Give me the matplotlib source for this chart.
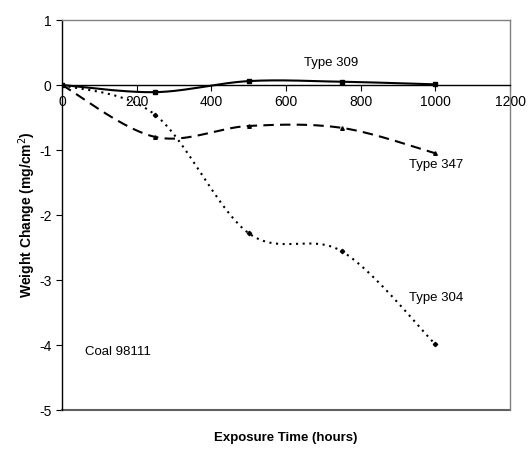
import numpy as np
import matplotlib
matplotlib.use("Agg")
import matplotlib.pyplot as plt

plt.rcParams['font.family'] = ['Liberation Sans', 'DejaVu Sans']
plt.rcParams['axes.unicode_minus'] = False

hours = [0, 250, 500, 750, 1000]
type309 = [0.0, -0.11, 0.06, 0.05, 0.01]
type347 = [0.0, -0.80, -0.63, -0.66, -1.05]
type304 = [0.0, -0.46, -2.28, -2.56, -3.99]

xticks = [0, 200, 400, 600, 800, 1000, 1200]
yticks = [1, 0, -1, -2, -3, -4, -5]


def smooth(x, y, n=40):
    x = np.asarray(x, float)
    y = np.asarray(y, float)
    P = np.column_stack([x, y])
    m = len(P)
    out = []
    for i in range(m - 1):
        p0 = P[max(i - 1, 0)]
        p1 = P[i]
        p2 = P[i + 1]
        p3 = P[min(i + 2, m - 1)]
        c1 = p1 + (p2 - p0) / 6.0
        c2 = p2 - (p3 - p1) / 6.0
        t = np.linspace(0, 1, n)[:, None]
        seg = ((1 - t) ** 3) * p1 + 3 * ((1 - t) ** 2) * t * c1 + 3 * (1 - t) * t ** 2 * c2 + t ** 3 * p2
        out.append(seg if i == 0 else seg[1:])
    s = np.vstack(out)
    return s[:, 0], s[:, 1]


fig = plt.figure(figsize=(5.31, 4.58), dpi=100)
ax = fig.add_axes([62 / 531, 1 - 410 / 458, 448 / 531, 390 / 458])

sx, sy = smooth(hours, type309)
ax.plot(sx, sy, color='black', lw=1.5, ls='-')
ax.plot(hours, type309, ls='none', marker='s', ms=2.6, color='black')

sx, sy = smooth(hours, type347)
ax.plot(sx, sy, color='black', lw=1.5, ls=(0, (5, 3)))
ax.plot(hours, type347, ls='none', marker='^', ms=2.6, color='black')

sx, sy = smooth(hours, type304)
ax.plot(sx, sy, color='black', lw=1.5, ls=(0, (1, 2.2)))
ax.plot(hours, type304, ls='none', marker='D', ms=2.2, color='black')

ax.set_xlim(0, 1200)
ax.set_ylim(-5, 1)
ax.set_xticks(xticks)
ax.set_yticks(yticks)
ax.set_xticklabels([str(v) for v in xticks])
ax.set_yticklabels([str(v) for v in yticks])

ax.spines['bottom'].set_position(('data', 0))
ax.spines['bottom'].set_color('black')
ax.spines['left'].set_color('black')
ax.spines['top'].set_color('#808080')
ax.spines['right'].set_color('#808080')
for s in ax.spines.values():
    s.set_linewidth(1.0)
ax.axhline(-5, color='#606060', lw=1.5, clip_on=False)

ax.tick_params(axis='both', direction='out', length=4, width=0.8, labelsize=10, colors='black')
ax.tick_params(axis='x', pad=3)

ax.text(721, 0.34, 'Type 309', ha='center', va='center', fontsize=9.5)
ax.text(1002, -1.23, 'Type 347', ha='center', va='center', fontsize=9.5)
ax.text(1002, -3.28, 'Type 304', ha='center', va='center', fontsize=9.5)
ax.text(151, -4.10, 'Coal 98111', ha='center', va='center', fontsize=9.5)

ax.set_ylabel('Weight Change (mg/cm$^2$)', fontsize=10, fontweight='bold')
ax.yaxis.set_label_coords(-0.054, 0.5)
fig.text(286 / 531, 1 - 438 / 458, 'Exposure Time (hours)', ha='center', va='center',
         fontsize=9.5, fontweight='bold')

fig.savefig('out.png', dpi=100, facecolor='white')
